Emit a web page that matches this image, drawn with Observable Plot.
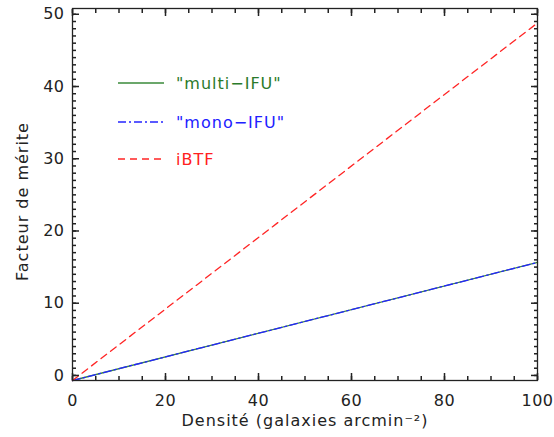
<!DOCTYPE html>
<html><head><meta charset="utf-8">
<script src="https://cdn.jsdelivr.net/npm/d3@7"></script>
<script src="https://cdn.jsdelivr.net/npm/@observablehq/plot@0.6"></script>
<style>
body{margin:0;background:#fff;}
#wrap{position:relative;width:554px;height:437px;font-family:"DejaVu Sans",sans-serif;}
.leg{position:absolute;left:118px;height:20px;display:flex;align-items:center;font-size:16px;letter-spacing:1px;white-space:nowrap;}
.leg svg{margin-right:12px;display:block}
</style></head><body><div id="wrap"></div>
<script>
// Data
const density = [0, 100];
const multiIFU = [-0.7, 15.65];
const monoIFU = [-0.7, 15.65];
const iBTF = [-0.7, 48.8];
const seriesNames = ['"multi\u2212IFU"', '"mono\u2212IFU"', 'iBTF'];
const xMajor = [0, 20, 40, 60, 80, 100];
const yMajor = [0, 10, 20, 30, 40, 50];
const xMinor = d3.range(0, 101, 5);
const yMinor = d3.range(0, 51, 1);
const xTitle = "Densité (galaxies arcmin\u207B\u00B2)";
const yTitle = "Facteur de mérite";

const W = 554, H = 437, mL = 72, mR = 17, mT = 8, mB = 57;
const xDom = [0, 100], yDom = [-0.7, 50.8];
const rows = vals => density.map((x, i) => ({x, y: vals[i]}));
const colors = ["#3a8a3a", "#2424ff", "#ff2424"];
const textColors = ["#2a7a2a", "#2020ff", "#ff2020"];
const dashes = [null, "8,3,2,3", "7,5"];
const axisColor = "#222";
const major = 7, minor = 4, tw = 1.5;

function ticks(dim, vals, len) {
  const ax = dim === "x" ? Plot.axisX : Plot.axisY;
  const anchors = dim === "x" ? ["bottom", "top"] : ["left", "right"];
  return anchors.map(anchor => ax({ticks: vals, anchor, tickSize: -len, tickFormat: () => "", label: null, stroke: axisColor, strokeWidth: tw}));
}

const plot = Plot.plot({
  width: W, height: H,
  marginLeft: mL, marginRight: mR, marginTop: mT, marginBottom: mB,
  style: {fontFamily: '"DejaVu Sans", sans-serif', fontSize: "16px"},
  x: {domain: xDom},
  y: {domain: yDom},
  marks: [
    Plot.line(rows(multiIFU), {x: "x", y: "y", stroke: colors[0], strokeWidth: 1.3}),
    Plot.line(rows(monoIFU), {x: "x", y: "y", stroke: colors[1], strokeWidth: 1.3, strokeDasharray: dashes[1]}),
    Plot.line(rows(iBTF), {x: "x", y: "y", stroke: colors[2], strokeWidth: 1.3, strokeDasharray: dashes[2]}),
    ...ticks("x", xMajor, major),
    ...ticks("x", xMinor, minor),
    ...ticks("y", yMajor, major),
    ...ticks("y", yMinor, minor),
    Plot.frame({stroke: axisColor, strokeWidth: 1.3}),
    Plot.axisX({ticks: xMajor, anchor: "bottom", tickSize: 0, tickPadding: 14, label: null, fill: axisColor}),
    Plot.axisY({ticks: yMajor, anchor: "left", tickSize: 0, tickPadding: 8, label: null, fill: axisColor}),
    Plot.text([xTitle], {frameAnchor: "bottom", lineAnchor: "middle", textAnchor: "middle", dy: 40, fill: axisColor, fontSize: 16}),
    Plot.text([yTitle], {frameAnchor: "left", lineAnchor: "middle", textAnchor: "middle", dx: -50, dy: 7, rotate: -90, fill: axisColor, fontSize: 16})
  ]
});
d3.select(plot).selectAll('g[aria-label="text"] text').style("letter-spacing", "1px");
d3.select(plot).selectAll('g[aria-label="y-axis tick label"] text, g[aria-label="x-axis tick label"] text').style("letter-spacing", "0.5px");
const wrap = document.getElementById("wrap");
wrap.appendChild(plot);

// Legend (HTML overlay)
const legendTops = [73, 112, 149];
seriesNames.forEach((name, i) => {
  const div = document.createElement("div");
  div.className = "leg";
  div.style.top = legendTops[i] + "px";
  div.style.color = textColors[i];
  const svg = d3.create("svg").attr("width", 46).attr("height", 4);
  svg.append("line").attr("x1", 0).attr("x2", 46).attr("y1", 2).attr("y2", 2)
    .attr("stroke", colors[i]).attr("stroke-width", 1.5)
    .attr("stroke-dasharray", dashes[i]);
  div.appendChild(svg.node());
  const span = document.createElement("span");
  span.textContent = name;
  div.appendChild(span);
  wrap.appendChild(div);
});
</script></body></html>
